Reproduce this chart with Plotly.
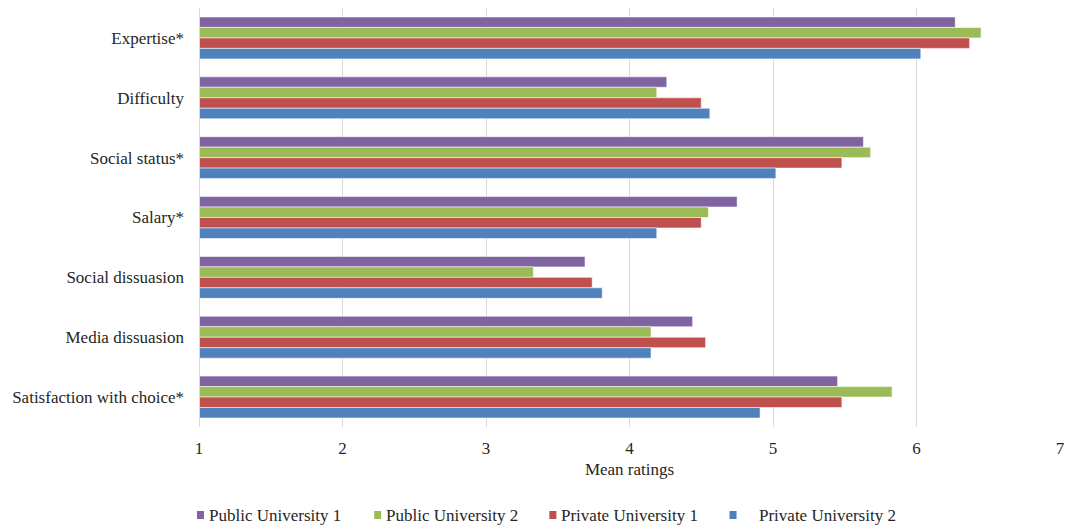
import plotly.graph_objects as go

# Rating dimensions, listed top to bottom
categories = [
    "Expertise*",
    "Difficulty",
    "Social status*",
    "Salary*",
    "Social dissuasion",
    "Media dissuasion",
    "Satisfaction with choice*",
]

# Mean ratings per university
public_1 = [6.27, 4.26, 5.63, 4.75, 3.69, 4.44, 5.45]
public_2 = [6.45, 4.19, 5.68, 4.55, 3.33, 4.15, 5.83]
private_1 = [6.37, 4.50, 5.48, 4.50, 3.74, 4.53, 5.48]
private_2 = [6.03, 4.56, 5.02, 4.19, 3.81, 4.15, 4.91]

x_ticks = [1, 2, 3, 4, 5, 6, 7]

series = [
    ("Public University 1", public_1, "#8064A2"),
    ("Public University 2", public_2, "#9BBB59"),
    ("Private University 1", private_1, "#C0504D"),
    ("Private University 2", private_2, "#4F81BD"),
]

FONT = "Liberation Serif, Times New Roman, serif"
TEXT = "#262626"
W, H = 1073, 527
ML, MR, MT, MB = 199, 9, 8, 100
PW, PH = W - ML - MR, H - MT - MB

fig = go.Figure()
for name, values, color in series:
    fig.add_trace(go.Bar(
        name=name,
        y=categories,
        x=values,
        base=0,
        orientation="h",
        marker=dict(color=color, line=dict(color="rgba(255,255,255,0.55)", width=1)),
        showlegend=False,
    ))

fig.update_layout(
    width=W,
    height=H,
    margin=dict(l=ML, r=MR, t=MT, b=MB),
    paper_bgcolor="white",
    plot_bgcolor="white",
    barmode="group",
    bargap=0.3,
    bargroupgap=0,
    font=dict(family=FONT, size=17, color=TEXT),
    xaxis=dict(
        range=[1, 7],
        tickvals=x_ticks,
        ticktext=[str(t) for t in x_ticks],
        showgrid=True,
        gridcolor="#d9d9d9",
        gridwidth=1,
        zeroline=False,
        showline=False,
        ticks="",
        ticklabelstandoff=9,
        title=dict(text="Mean ratings", font=dict(family=FONT, size=17, color=TEXT), standoff=6),
    ),
    yaxis=dict(
        autorange="reversed",
        showline=False,
        ticks="",
        ticklabelstandoff=14,
        showgrid=False,
    ),
)

# Left axis line at x = 1
fig.add_shape(type="line", xref="x", yref="paper", x0=1, x1=1, y0=0, y1=1,
              line=dict(color="#d9d9d9", width=2), layer="above")

# Legend row below the axis title: small colour square followed by the label
legend_y = (H - MB - 515) / PH
swatch_px = [197, 375, 551, 732]
label_px = [207, 385, 561, 760]
for (name, _, color), sx, lx in zip(series, swatch_px, label_px):
    fig.add_shape(
        type="rect", xref="paper", yref="paper",
        xsizemode="pixel", ysizemode="pixel",
        xanchor=(sx - ML) / PW, yanchor=legend_y,
        x0=0, x1=7, y0=-4, y1=4,
        fillcolor=color, line=dict(width=0),
    )
    fig.add_annotation(
        xref="paper", yref="paper",
        x=(lx - ML) / PW, y=legend_y,
        xanchor="left", yanchor="middle",
        text=name, showarrow=False,
        font=dict(family=FONT, size=17, color=TEXT),
    )

fig.write_html("out.html")
